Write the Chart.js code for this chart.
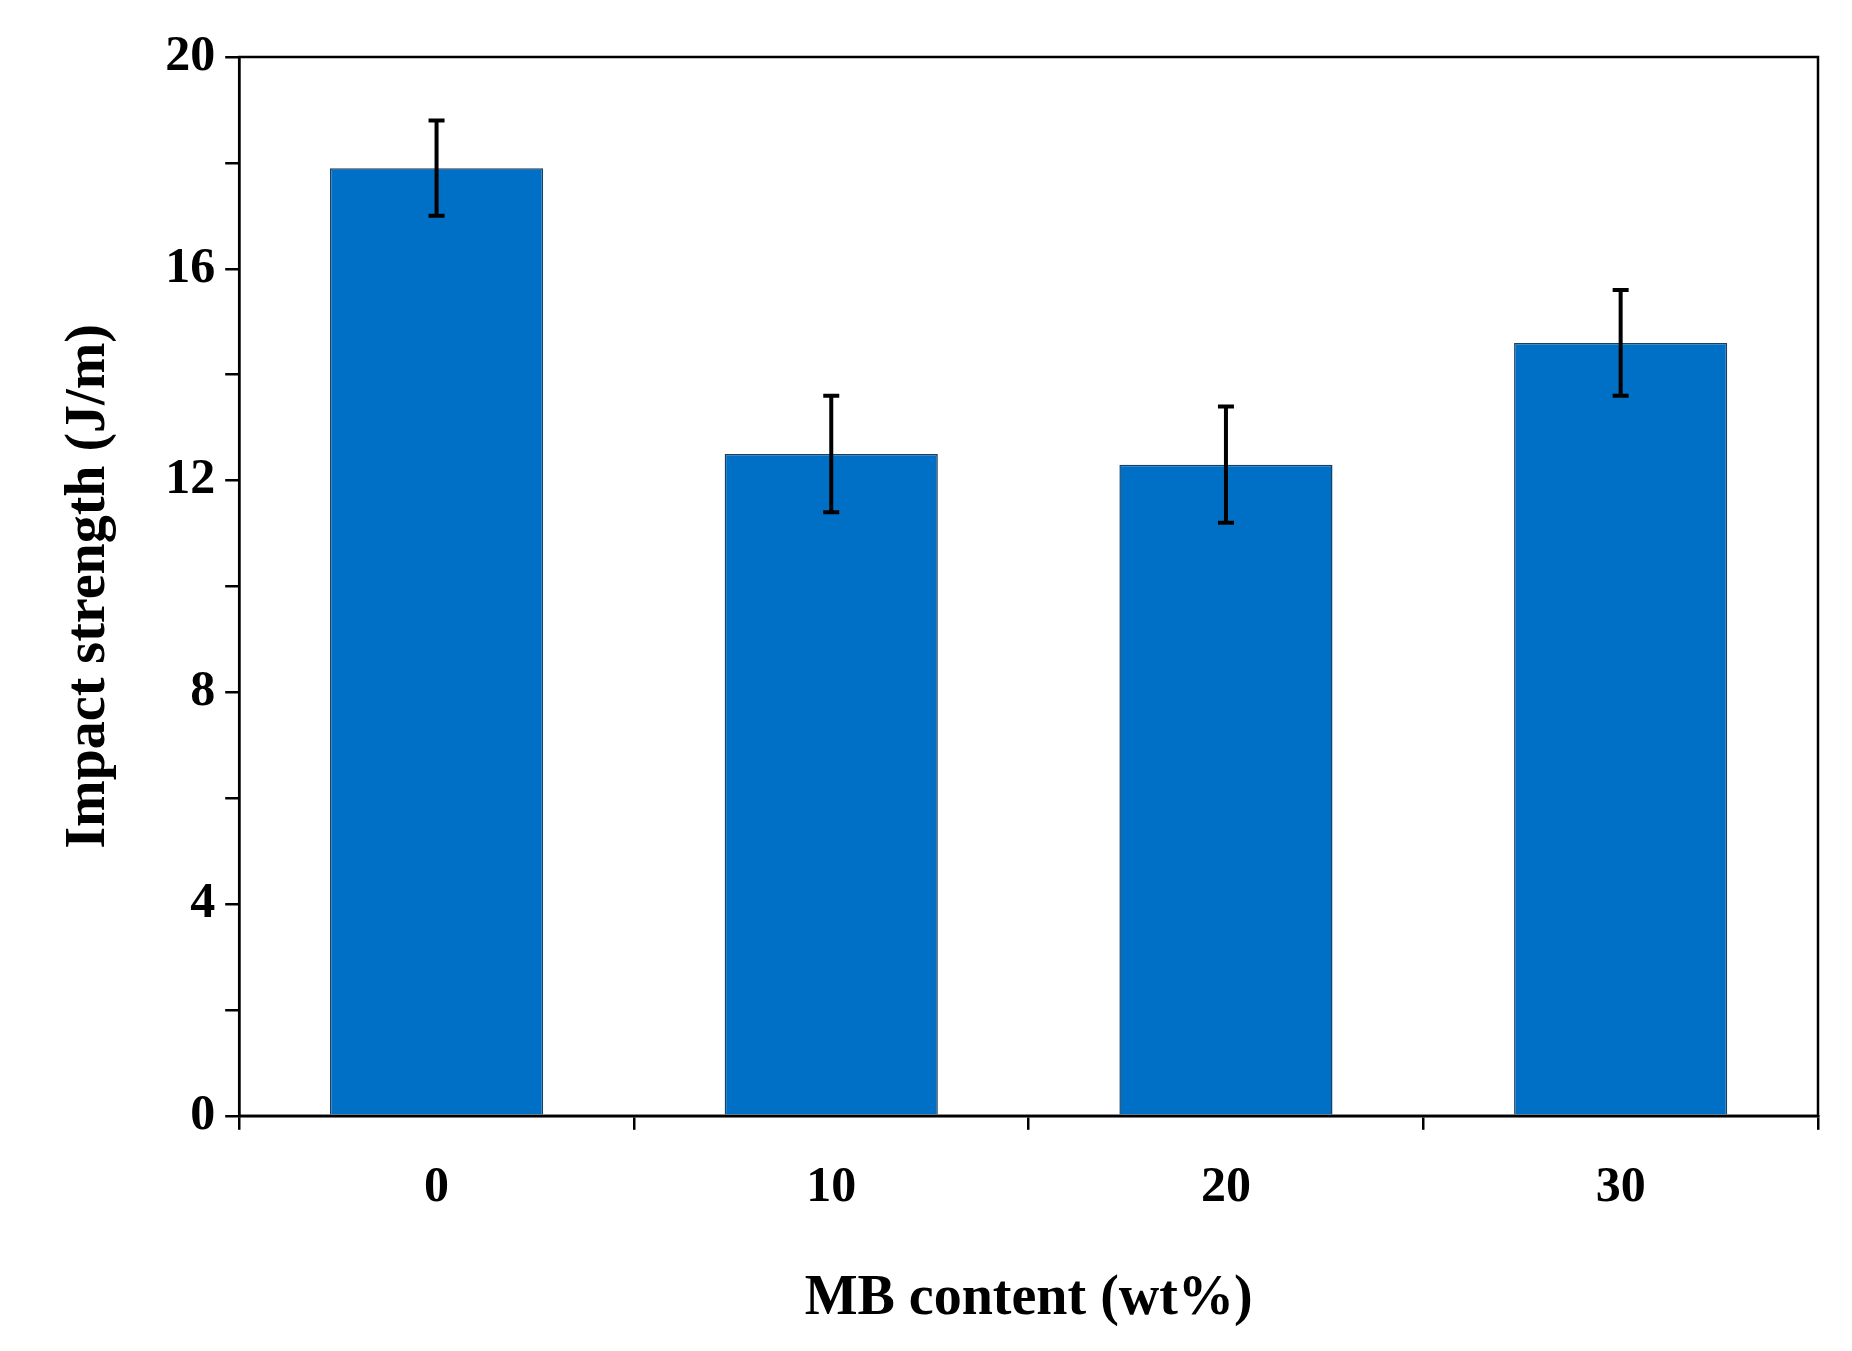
<!DOCTYPE html>
<html>
<head>
<meta charset="utf-8">
<script src="https://cdn.jsdelivr.net/npm/chart.js@4"></script>
<style>
  html, body { margin: 0; padding: 0; background: #fff; }
  #wrap { width: 1852px; height: 1351px; }
</style>
</head>
<body>
<div id="wrap"><canvas id="barChart"></canvas></div>
<script>
// Values
const categories = ['0', '10', '20', '30'];
const impactStrength = [17.9, 12.5, 12.3, 14.6];
const errorSize = [0.9, 1.1, 1.1, 1.0];

const serif = '"Liberation Serif", "Times New Roman", serif';

// Draws the error bars and the closed frame around the plot area
const extras = {
    id: 'extras',
    afterDatasetsDraw(chart) {
        const c = chart.ctx;
        const x = chart.scales.x, y = chart.scales.y;
        c.save();
        c.strokeStyle = '#000';
        c.lineWidth = 4;
        impactStrength.forEach((v, i) => {
            const px = x.getPixelForValue(i);
            const top = y.getPixelForValue(v + errorSize[i]);
            const bot = y.getPixelForValue(v - errorSize[i]);
            c.beginPath();
            c.moveTo(px, top); c.lineTo(px, bot);
            c.moveTo(px - 8, top); c.lineTo(px + 8, top);
            c.moveTo(px - 8, bot); c.lineTo(px + 8, bot);
            c.stroke();
        });
        const a = chart.chartArea;
        c.lineWidth = 2.5;
        c.strokeRect(a.left, a.top, a.right - a.left, a.bottom - a.top);
        c.restore();
    }
};

new Chart(document.getElementById('barChart'), {
    type: 'bar',
    data: {
        labels: categories,
        datasets: [{
            data: impactStrength,
            backgroundColor: '#0070c6',
            borderColor: '#1a3f66',
            borderWidth: 1.5,
            categoryPercentage: 1,
            barPercentage: 0.54
        }]
    },
    options: {
        responsive: true,
        maintainAspectRatio: false,
        animation: false,
        layout: { padding: { top: 57, right: 34, left: 52, bottom: 14 } },
        plugins: { legend: { display: false }, tooltip: { enabled: false } },
        scales: {
            x: {
                grid: { offset: true, drawOnChartArea: false, color: '#000', lineWidth: 2.5, tickLength: 14 },
                border: { color: '#000', width: 2.5 },
                ticks: { color: '#000', font: { family: serif, size: 50, weight: 'bold' }, padding: 28 },
                title: { display: true, text: 'MB content (wt%)', color: '#000',
                         font: { family: serif, size: 56, weight: 'bold' }, padding: { top: 20 } }
            },
            y: {
                min: 0, max: 20,
                grid: { drawOnChartArea: false, color: '#000', lineWidth: 2.5, tickLength: 14 },
                border: { color: '#000', width: 2.5 },
                ticks: {
                    stepSize: 2, autoSkip: false, color: '#000', padding: 10,
                    font: { family: serif, size: 50, weight: 'bold' },
                    callback: v => (v % 4 === 0 ? v : '')
                },
                title: { display: true, text: 'Impact strength (J/m)', color: '#000',
                         font: { family: serif, size: 56, weight: 'bold' }, padding: { bottom: 32 } }
            }
        }
    },
    plugins: [extras]
});
</script>
</body>
</html>
